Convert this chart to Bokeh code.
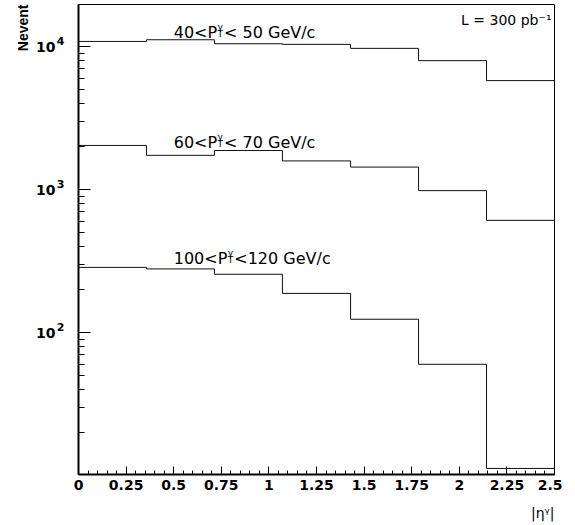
import numpy as np
from bokeh.plotting import figure
from bokeh.models import Range1d, FixedTicker, Label, LogAxis, Title
from bokeh.embed import file_html
from bokeh.resources import INLINE

# ---- data -------------------------------------------------------------
bin_edges = [0.0, 0.357, 0.714, 1.071, 1.429, 1.786, 2.143, 2.5]
pt40_50 = [10900, 11200, 10500, 10400, 9750, 8000, 5800]
pt60_70 = [2040, 1740, 1880, 1590, 1440, 985, 610]
pt100_120 = [286, 279, 256, 188, 124, 60, 11.2]

label_prefix = ["40<P", "60<P", "100<P"]
label_suffix = ["< 50 GeV/c", "< 70 GeV/c", "<120 GeV/c"]
label_x = [0.5, 0.5, 0.5]
label_y = [12600, 2150, 330]

x_ticks = [0, 0.25, 0.5, 0.75, 1, 1.25, 1.5, 1.75, 2, 2.25, 2.5]
x_tick_labels = ["0", "0.25", "0.5", "0.75", "1", "1.25", "1.5", "1.75", "2", "2.25", "2.5"]
y_ticks = [100, 1000, 10000]
y_tick_base = ["10", "10", "10"]
y_tick_exp = ["2", "3", "4"]

lumi_text = "L = 300 pb\u207b\u00b9"
x_title = "|\u03b7\u1d5e|"
y_title = "Nevent"

# ---- figure -----------------------------------------------------------
p = figure(frame_width=476, frame_height=470,
           min_border_left=78, min_border_right=8,
           min_border_top=4, min_border_bottom=50,
           x_range=Range1d(0, 2.5), y_range=Range1d(10.16, 19770),
           y_axis_type="log",
           output_backend="svg", toolbar_location=None)
p.background_fill_color = "white"
p.border_fill_color = "white"
p.outline_line_color = "black"
p.outline_line_width = 1
p.xgrid.visible = False
p.ygrid.visible = False

# x axis
minor_x = [round(v, 3) for v in np.arange(0, 2.5001, 0.05)]
p.xaxis.ticker = FixedTicker(ticks=x_ticks, minor_ticks=minor_x)
p.xaxis.major_label_overrides = {t: l for t, l in zip(x_ticks, x_tick_labels)}
p.xaxis.major_tick_in = 8
p.xaxis.major_tick_out = 0
p.xaxis.minor_tick_in = 4
p.xaxis.minor_tick_out = 0
p.xaxis.axis_line_width = 2
p.xaxis.major_label_standoff = 5
p.xaxis.major_label_text_font = "DejaVu Sans"
p.xaxis.major_label_text_font_style = "bold"
p.xaxis.major_label_text_font_size = "14px"
p.xaxis.major_label_text_color = "black"

# y axis: ticks only
minor_y = [m * 10 ** e for e in range(1, 5) for m in range(2, 10)]
p.yaxis.ticker = FixedTicker(ticks=y_ticks, minor_ticks=minor_y)
p.yaxis.major_tick_in = 12
p.yaxis.major_tick_out = 0
p.yaxis.minor_tick_in = 6
p.yaxis.minor_tick_out = 0
p.yaxis.axis_line_width = 2
p.yaxis.major_label_overrides = {t: "" for t in y_ticks}
p.yaxis.major_label_standoff = 0
p.yaxis.major_label_text_font_size = "1px"

# exponent axis: labels placed slightly above each decade tick
raise_factor = 1.093
exp_pos = [round(t * raise_factor) for t in y_ticks]
exp_axis = LogAxis(ticker=FixedTicker(ticks=exp_pos))
exp_axis.major_label_overrides = {t: e for t, e in zip(exp_pos, y_tick_exp)}
exp_axis.axis_line_color = None
exp_axis.major_tick_line_color = None
exp_axis.minor_tick_line_color = None
exp_axis.major_tick_in = 0
exp_axis.major_tick_out = 0
exp_axis.major_label_standoff = 14
exp_axis.major_label_text_font = "DejaVu Sans"
exp_axis.major_label_text_font_style = "bold"
exp_axis.major_label_text_font_size = "11px"
exp_axis.major_label_text_color = "black"
p.add_layout(exp_axis, "left")

# mantissa axis: "10"
base_axis = LogAxis(ticker=FixedTicker(ticks=y_ticks))
base_axis.major_label_overrides = {t: b for t, b in zip(y_ticks, y_tick_base)}
base_axis.axis_line_color = None
base_axis.major_tick_line_color = None
base_axis.minor_tick_line_color = None
base_axis.major_tick_out = 0
base_axis.major_tick_in = 0
base_axis.major_label_standoff = -2
base_axis.major_label_text_font = "DejaVu Sans"
base_axis.major_label_text_font_style = "bold"
base_axis.major_label_text_font_size = "14px"
base_axis.major_label_text_color = "black"
p.add_layout(base_axis, "left")

# ---- histograms -------------------------------------------------------
for vals in (pt40_50, pt60_70, pt100_120):
    xs = list(bin_edges)
    ys = list(vals) + [vals[-1]]
    p.step(x=xs, y=ys, mode="after", line_color="#111111", line_width=1)

# ---- series labels with P_T^gamma --------------------------------------
adv = {"0": 0.636, "1": 0.636, "4": 0.636, "6": 0.636, "<": 0.838, "P": 0.603}
fs = 16
for pre, suf, lx, ly in zip(label_prefix, label_suffix, label_x, label_y):
    w = sum(adv[c] for c in pre) * fs
    p.add_layout(Label(x=lx, y=ly, text=pre, text_align="left",
                       text_baseline="alphabetic", text_font="DejaVu Sans",
                       text_font_size=f"{fs}px", text_color="black"))
    p.add_layout(Label(x=lx, y=ly, x_offset=w + 0.5, y_offset=-2, text="T",
                       text_align="left", text_baseline="alphabetic",
                       text_font="DejaVu Sans", text_font_size="9px",
                       text_color="black"))
    p.add_layout(Label(x=lx, y=ly, x_offset=w + 0.5, y_offset=5, text="\u03b3",
                       text_align="left", text_baseline="alphabetic",
                       text_font="DejaVu Sans", text_font_size="9px",
                       text_color="black"))
    p.add_layout(Label(x=lx, y=ly, x_offset=w + 7, text=suf, text_align="left",
                       text_baseline="alphabetic", text_font="DejaVu Sans",
                       text_font_size=f"{fs}px", text_color="black"))

# ---- luminosity -------------------------------------------------------
p.add_layout(Label(x=2.5, y=15500, x_offset=-3, text=lumi_text,
                   text_align="right", text_baseline="alphabetic",
                   text_font="DejaVu Sans", text_font_size="14px",
                   text_color="black"))

# ---- axis titles ------------------------------------------------------
p.add_layout(Title(text=x_title, align="right", standoff=20,
                   text_font="DejaVu Sans", text_font_style="normal",
                   text_font_size="14px", text_color="black"), "below")
p.add_layout(Title(text=y_title, align="right", standoff=5,
                   text_font="Liberation Sans", text_font_style="bold",
                   text_font_size="14px", text_color="black"), "left")

open("out.html", "w").write(file_html(p, INLINE))
